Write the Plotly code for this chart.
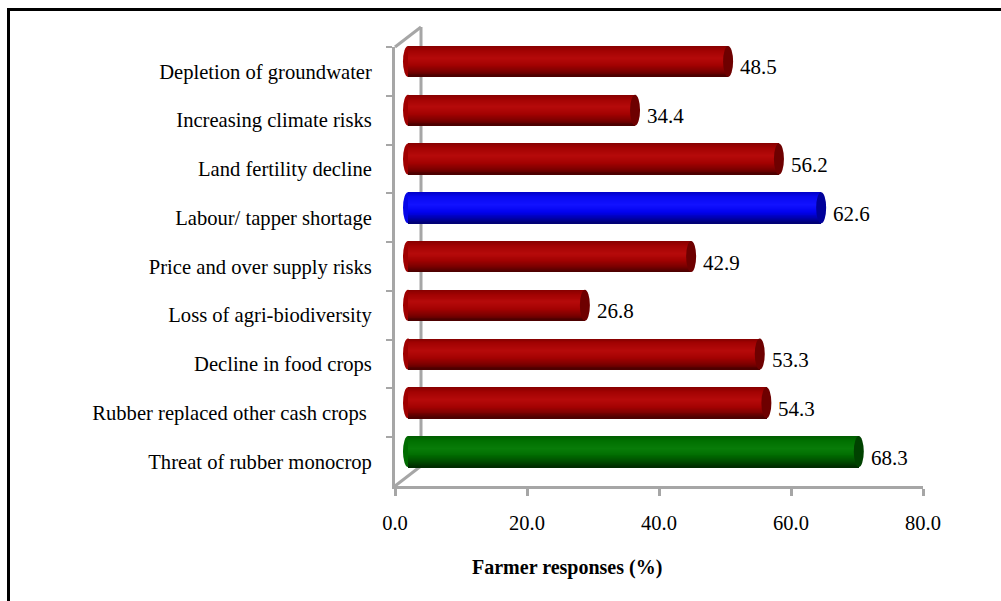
import plotly.graph_objects as go

# ---- data -------------------------------------------------------------
categories = [
    "Depletion of groundwater",
    "Increasing climate risks",
    "Land fertility decline",
    "Labour/ tapper shortage",
    "Price and over supply risks",
    "Loss of agri-biodiversity",
    "Decline in food crops",
    "Rubber replaced other cash crops ",
    "Threat of rubber monocrop",
]
responses = [48.5, 34.4, 56.2, 62.6, 42.9, 26.8, 53.3, 54.3, 68.3]
bar_groups = ["red", "red", "red", "blue", "red", "red", "red", "red", "green"]
x_ticks = [0, 20, 40, 60, 80]

# ---- styling ----------------------------------------------------------
W, H = 1001, 601
FONT = "Liberation Serif, Times New Roman, serif"
WALL = "#a6a6a6"

# front plane of the pseudo-3D plot box (pixels)
FX0, FX1, FY0, FY1 = 395, 923, 47, 486
DEPTH_X, DEPTH_Y = 26, 20           # full depth of the box
BX, BY = DEPTH_X / 2, DEPTH_Y / 2   # cylinders sit half way in
PX_PER_UNIT = (FX1 - FX0) / 80
LEAD = 2                            # room left of zero for the rounded ends

BAR_W = 0.635
N_STRIPES = 32

# vertical shading stops (top -> bottom) for each cylinder colour
SHADES = {
    "red": [(0.0, (0x86, 0x00, 0x00)), (0.15, (0xA2, 0x02, 0x02)),
            (0.40, (0xB6, 0x0A, 0x0A)), (0.62, (0xA4, 0x02, 0x02)),
            (0.82, (0x7C, 0x00, 0x00)), (1.0, (0x48, 0x00, 0x00))],
    "blue": [(0.0, (0x00, 0x00, 0xC4)), (0.15, (0x08, 0x08, 0xF0)),
             (0.40, (0x12, 0x12, 0xFF)), (0.62, (0x02, 0x02, 0xF0)),
             (0.82, (0x00, 0x00, 0xB8)), (1.0, (0x00, 0x00, 0x70))],
    "green": [(0.0, (0x00, 0x5C, 0x00)), (0.15, (0x00, 0x70, 0x00)),
              (0.40, (0x08, 0x7C, 0x08)), (0.62, (0x00, 0x6C, 0x00)),
              (0.82, (0x00, 0x4E, 0x00)), (1.0, (0x00, 0x2A, 0x00))],
}
FACE = {"red": "#6e0000", "blue": "#00009a", "green": "#004200"}
BASE = {"red": "#a00000", "blue": "#0606e8", "green": "#006c00"}


def shade(group, t):
    stops = SHADES[group]
    for (t0, c0), (t1, c1) in zip(stops, stops[1:]):
        if t <= t1:
            f = (t - t0) / (t1 - t0) if t1 > t0 else 0
            c = [round(a + (b - a) * f) for a, b in zip(c0, c1)]
            return "rgb({},{},{})".format(*c)
    return "rgb({},{},{})".format(*stops[-1][1])


def px_x(p):
    return p / W


def px_y(p):
    return 1 - p / H


fig = go.Figure()

# invisible trace on the front axes so that their subplot gets drawn
fig.add_trace(go.Scatter(
    x=responses, y=categories, xaxis="x", yaxis="y", mode="markers",
    marker=dict(opacity=0), hoverinfo="skip", showlegend=False,
))

# cylinder bodies: stacked bands, each reaching to the bottom of the bar,
# so the visible part of each band is one shading step
for i in range(N_STRIPES):
    t = (i + 0.5) / N_STRIPES
    off = -BAR_W / 2 + i * BAR_W / N_STRIPES
    fig.add_trace(go.Bar(
        y=categories, x=responses, orientation="h",
        xaxis="x2", yaxis="y2",
        width=BAR_W - i * BAR_W / N_STRIPES, offset=off,
        marker=dict(color=[shade(g, t) for g in bar_groups], line_width=0),
        hoverinfo="skip", showlegend=False,
    ))

cap_r = 5 / PX_PER_UNIT

shapes = []
# back wall outline of the 3D box (behind the cylinders)
shapes += [
    dict(type="line", xref="paper", yref="paper", layer="below",
         x0=px_x(FX0 + DEPTH_X), x1=px_x(FX0 + DEPTH_X),
         y0=px_y(FY0 - DEPTH_Y), y1=px_y(FY1 - DEPTH_Y),
         line=dict(color=WALL, width=3)),
    dict(type="line", xref="paper", yref="paper", layer="below",
         x0=px_x(FX0), x1=px_x(FX0 + DEPTH_X),
         y0=px_y(FY0), y1=px_y(FY0 - DEPTH_Y),
         line=dict(color=WALL, width=3)),
    dict(type="line", xref="paper", yref="paper", layer="below",
         x0=px_x(FX0), x1=px_x(FX0 + DEPTH_X),
         y0=px_y(FY1), y1=px_y(FY1 - DEPTH_Y),
         line=dict(color=WALL, width=3)),
]
# rounded left ends and darker end faces of the cylinders
for k, (cat, v, g) in enumerate(zip(categories, responses, bar_groups)):
    shapes.append(dict(
        type="circle", xref="x2", yref="y2", layer="below",
        x0=-cap_r, x1=cap_r, y0=k - BAR_W / 2, y1=k + BAR_W / 2,
        fillcolor=BASE[g], line_width=0))
    shapes.append(dict(
        type="circle", xref="x2", yref="y2", layer="above",
        x0=v - cap_r, x1=v + cap_r, y0=k - BAR_W / 2, y1=k + BAR_W / 2,
        fillcolor=FACE[g], line_width=0))
# frame around the chart
shapes.append(dict(
    type="path", xref="paper", yref="paper", layer="above",
    path="M {} {} L {} {} L {} {}".format(px_x(8.5), px_y(601), px_x(8.5),
                                            px_y(9.5), px_x(1001), px_y(9.5)),
    line=dict(color="black", width=3)))

annotations = []
for cat, v in zip(categories, responses):
    annotations.append(dict(
        x=v, y=cat, xref="x2", yref="y", text=f"{v:.1f}",
        xanchor="left", yanchor="middle", xshift=10, yshift=4,
        showarrow=False,
        font=dict(family=FONT, size=21, color="black")))
annotations.append(dict(
    x=px_x(567), y=px_y(567), xref="paper", yref="paper",
    text="<b>Farmer responses (%)</b>", showarrow=False,
    xanchor="center", yanchor="middle",
    font=dict(family=FONT, size=20, color="black")))

fig.update_layout(
    width=W, height=H, autosize=False,
    margin=dict(l=0, r=0, t=0, b=0, pad=0, autoexpand=False),
    paper_bgcolor="white", plot_bgcolor="rgba(0,0,0,0)",
    bargap=0, barmode="overlay",
    showlegend=False,
    shapes=shapes, annotations=annotations,
    xaxis=dict(
        domain=[px_x(FX0), px_x(FX1)], range=[0, 80], automargin=False,
        anchor="y", tickvals=x_ticks, tickformat=".1f",
        showline=True, linecolor=WALL, linewidth=3,
        ticks="outside", ticklen=7, tickwidth=3, tickcolor=WALL,
        showgrid=False, zeroline=False, ticklabelstandoff=9,
        tickfont=dict(family=FONT, size=20.5, color="black"),
    ),
    yaxis=dict(
        domain=[px_y(FY1), px_y(FY0)], range=[len(categories) - 0.5, -0.5],
        type="category", categoryorder="array", categoryarray=categories,
        anchor="x", showline=True, linecolor=WALL, linewidth=3,
        automargin=False,
        ticks="outside", ticklen=6, tickwidth=2, tickcolor=WALL,
        tickson="boundaries", showgrid=False, zeroline=False,
        ticklabelstandoff=16,
        tickfont=dict(family=FONT, size=20.6, color="black"),
    ),
    xaxis2=dict(
        domain=[px_x(FX0 + BX - LEAD * PX_PER_UNIT), px_x(FX1 + BX)],
        range=[-LEAD, 80],
        anchor="y2", visible=False, showgrid=False, zeroline=False,
        automargin=False,
    ),
    yaxis2=dict(
        domain=[px_y(FY1 - BY), px_y(FY0 - BY)],
        range=[len(categories) - 0.5, -0.5],
        type="category", categoryorder="array", categoryarray=categories,
        anchor="x2", visible=False, showgrid=False, zeroline=False,
        automargin=False,
    ),
)

fig.write_html("out.html")
